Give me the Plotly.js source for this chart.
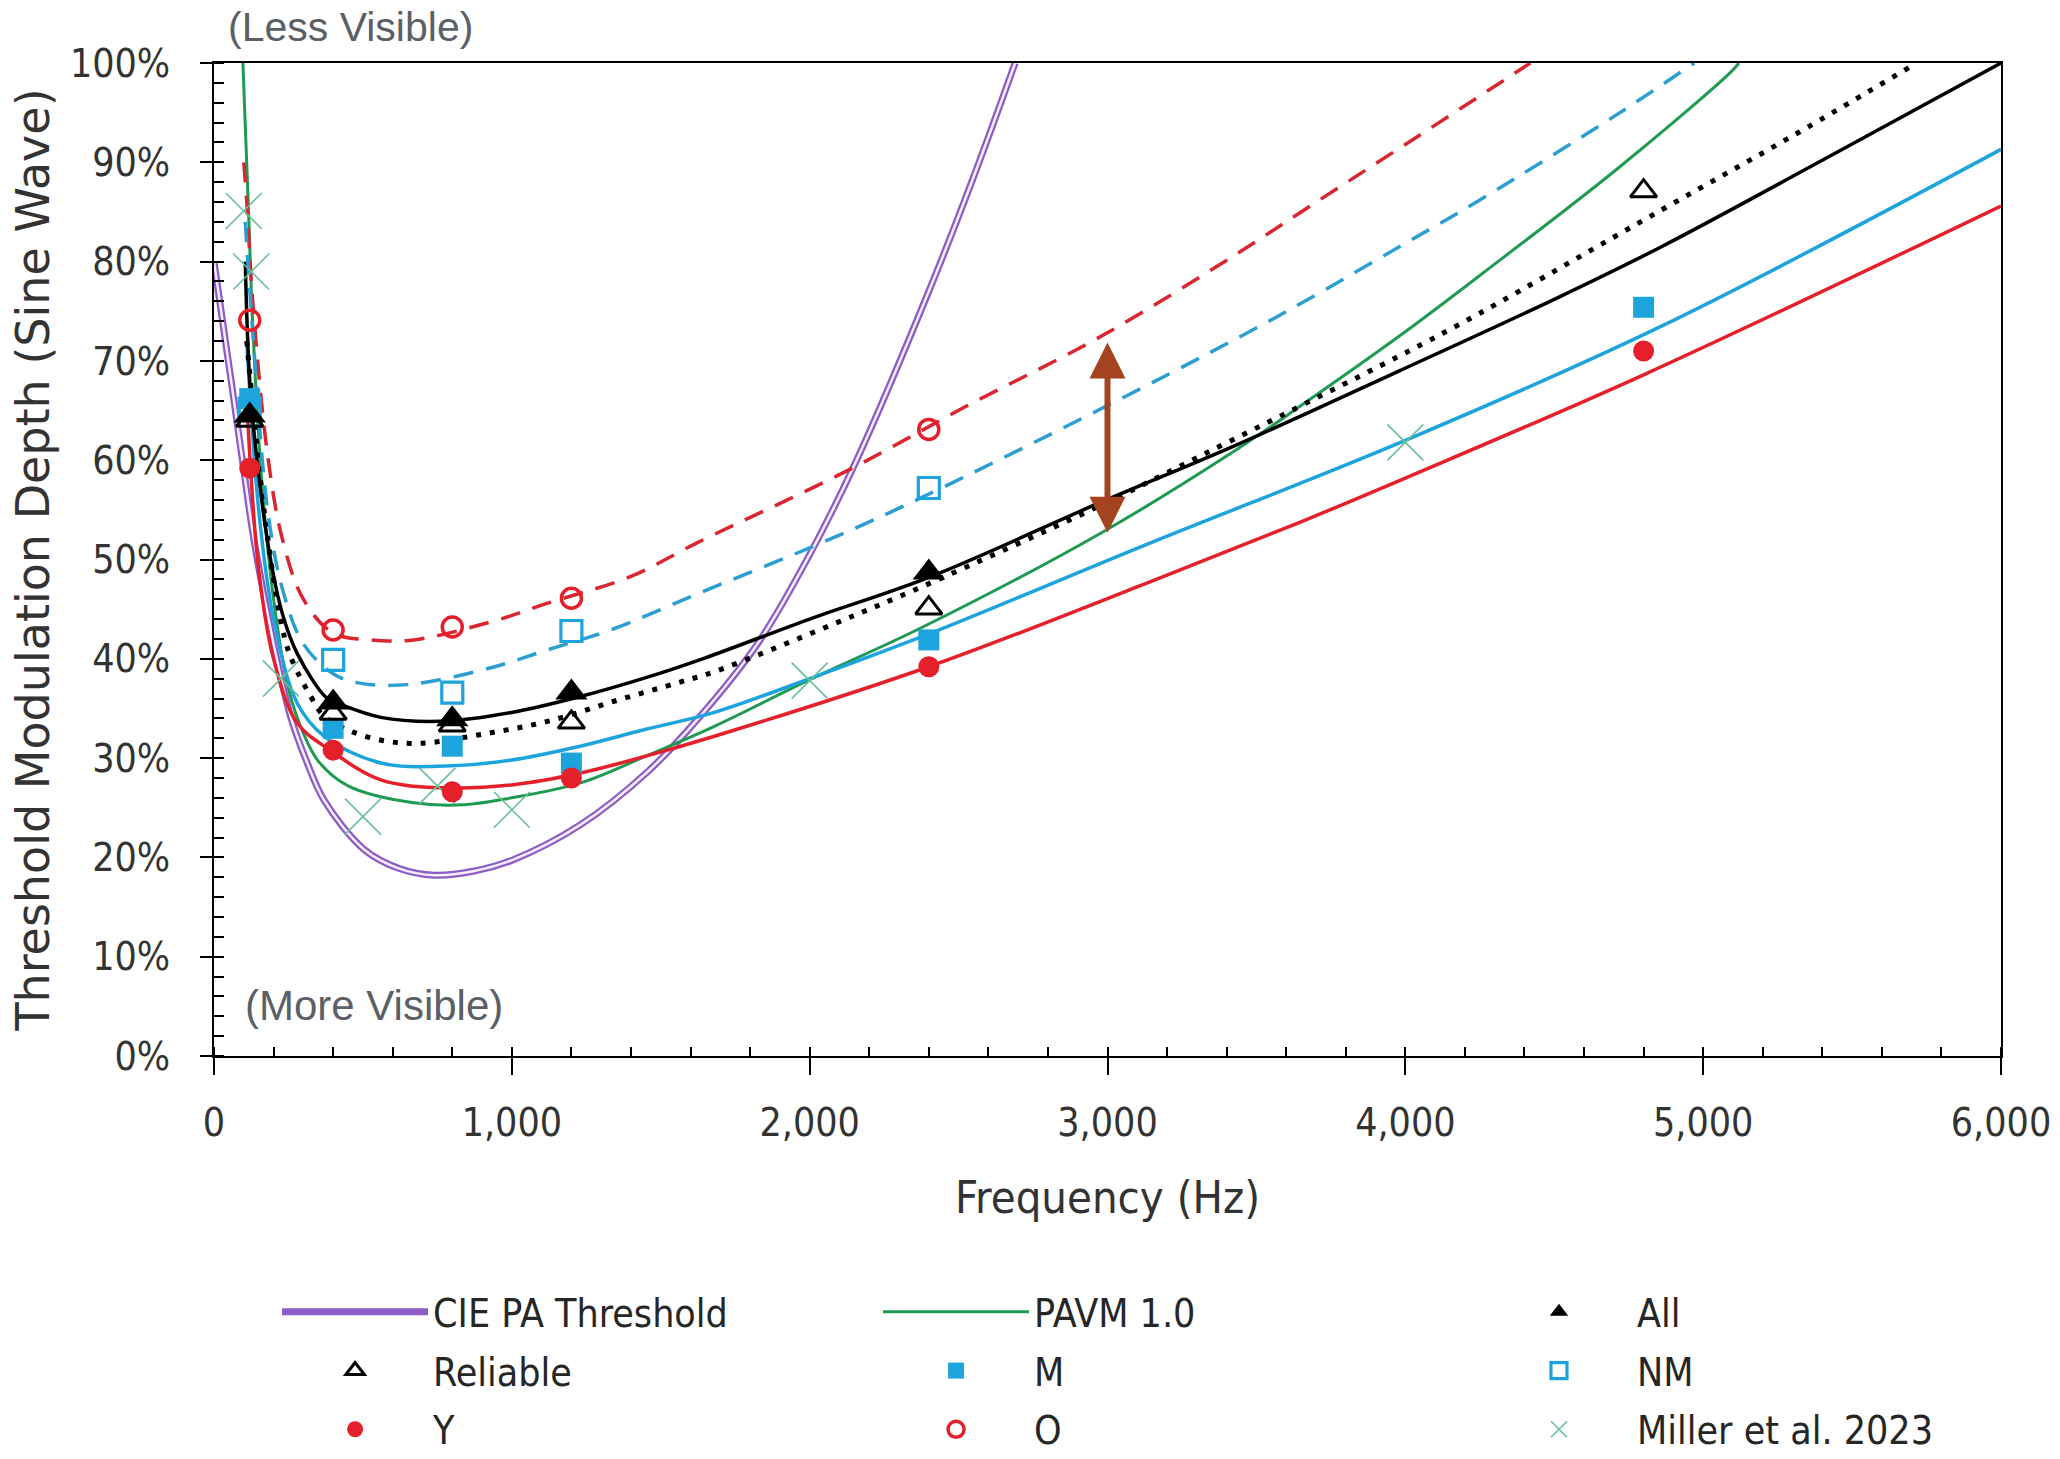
<!DOCTYPE html>
<html>
<head>
<meta charset="utf-8">
<script src="https://cdn.plot.ly/plotly-3.0.1.min.js"></script>
<style>
  html, body { margin: 0; padding: 0; background: #fff; }
  #chart { width: 2060px; height: 1459px; }
</style>
</head>
<body>
<div id="chart"></div>
<script>
// ---------------- data ----------------
// measured thresholds (Hz, fraction)
const freqAll = [120, 400, 800, 1200, 2400];
const valAll = [0.645, 0.356, 0.339, 0.366, 0.487];
const freqReliable = [120, 400, 800, 1200, 2400, 4800];
const valReliable = [0.64, 0.345, 0.333, 0.336, 0.451, 0.871];
const freqM = [120, 400, 800, 1200, 2400, 4800];
const valM = [0.662, 0.330, 0.312, 0.295, 0.419, 0.754];
const freqNM = [120, 400, 800, 1200, 2400];
const valNM = [0.652, 0.399, 0.366, 0.428, 0.572];
const freqY = [120, 400, 800, 1200, 2400, 4800];
const valY = [0.592, 0.308, 0.266, 0.280, 0.392, 0.710];
const freqO = [120, 400, 800, 1200, 2400];
const valO = [0.741, 0.429, 0.432, 0.461, 0.631];
const freqMiller = [100, 125, 225, 500, 750, 1000, 2000, 4000];
const valMiller = [0.851, 0.790, 0.380, 0.241, 0.272, 0.248, 0.378, 0.618];

// model / fitted curves
const cieF = [0, 60, 100, 134, 200, 257, 312, 369, 504, 620, 740, 870, 1007, 1231, 1455, 1632, 1827, 2000, 2156, 2400, 2550, 2690];
const cieV = [0.80, 0.675, 0.59, 0.52, 0.415, 0.342, 0.296, 0.258, 0.208, 0.189, 0.182, 0.186, 0.198, 0.233, 0.286, 0.342, 0.416, 0.505, 0.599, 0.77, 0.885, 1.0];
const pavmF = [97, 114, 131, 160, 200, 250, 300, 350, 450, 670, 840, 1000, 1230, 1450, 1680, 2000, 2380, 2980, 3430, 3650, 3980, 4250, 4710, 5090, 5120];
const pavmV = [1.0, 0.867, 0.73, 0.58, 0.46, 0.37, 0.325, 0.297, 0.272, 0.255, 0.253, 0.26, 0.275, 0.302, 0.332, 0.379, 0.432, 0.527, 0.61, 0.655, 0.725, 0.786, 0.893, 0.99, 1.0];
const allFitF = [105, 120, 150, 190, 230, 280, 380, 425, 560, 760, 1000, 1230, 1450, 1650, 2000, 2400, 2980, 3430, 3980, 4500, 4860, 5400, 6000];
const allFitV = [0.80, 0.68, 0.585, 0.50, 0.445, 0.405, 0.36, 0.354, 0.341, 0.337, 0.346, 0.362, 0.381, 0.401, 0.44, 0.482, 0.558, 0.615, 0.69, 0.762, 0.815, 0.902, 1.0];
const relFitF = [110, 170, 230, 260, 325, 370, 460, 580, 700, 900, 1120, 1340, 1570, 1680, 2080, 2380, 2980, 3430, 3980, 4250, 4860, 5320, 5700];
const relFitV = [0.72, 0.545, 0.43, 0.40, 0.362, 0.342, 0.327, 0.317, 0.315, 0.324, 0.337, 0.357, 0.377, 0.387, 0.435, 0.473, 0.555, 0.622, 0.705, 0.748, 0.852, 0.93, 0.997];
const mFitF = [110, 150, 200, 280, 370, 560, 780, 1000, 1230, 1450, 1680, 2000, 2400, 3130, 4000, 4860, 6000];
const mFitV = [0.72, 0.55, 0.44, 0.355, 0.322, 0.295, 0.292, 0.298, 0.312, 0.329, 0.346, 0.38, 0.425, 0.515, 0.62, 0.735, 0.913];
const nmFitF = [105, 130, 180, 230, 300, 400, 480, 650, 930, 1120, 1340, 1620, 2080, 2380, 2980, 3430, 3650, 3980, 4250, 4710, 4970];
const nmFitV = [0.84, 0.73, 0.55, 0.47, 0.415, 0.385, 0.376, 0.374, 0.391, 0.409, 0.43, 0.465, 0.522, 0.563, 0.652, 0.722, 0.758, 0.815, 0.862, 0.948, 1.0];
const yFitF = [110, 150, 200, 280, 390, 560, 780, 1000, 1230, 1450, 1680, 2400, 3130, 3650, 4000, 4800, 6000];
const yFitV = [0.66, 0.49, 0.40, 0.335, 0.308, 0.278, 0.27, 0.273, 0.285, 0.302, 0.322, 0.392, 0.476, 0.538, 0.582, 0.686, 0.856];
const oFitF = [100, 110, 130, 180, 230, 300, 400, 530, 670, 950, 1120, 1400, 1630, 2130, 2530, 2980, 3430, 3650, 4000, 4420];
const oFitV = [0.90, 0.86, 0.76, 0.605, 0.52, 0.46, 0.426, 0.419, 0.419, 0.439, 0.456, 0.483, 0.518, 0.59, 0.655, 0.725, 0.807, 0.85, 0.918, 1.0];

// arrow between the O and Y/all curves
const arrowX = [3000];
const arrowLow = [0.527];
const arrowHigh = [0.72];

// axis ticks
const xTickVals = [0, 1000, 2000, 3000, 4000, 5000, 6000];
const yTickVals = [0, 0.1, 0.2, 0.3, 0.4, 0.5, 0.6, 0.7, 0.8, 0.9, 1.0];

// ---------------- styling ----------------
const RED = '#e5202a';
const RED_D = '#d9262f';
const BLUE = '#1ea4dd';
const BLUE_D = '#2b9fd2';
const GREEN = '#1f9a52';
const PURPLE = '#8e5cc6';
const MILLER = '#69c09a';
const COND = 'DejaVu Sans Condensed, DejaVu Sans, sans-serif';

function fit(f, v, color, width, dash) {
  return { x: f, y: v, type: 'scatter', mode: 'lines', showlegend: false, hoverinfo: 'skip',
    line: { color: color, width: width, dash: dash || 'solid', shape: 'spline', smoothing: 1 } };
}
function pts(f, v, name, symbol, color, size, lw, legend, rank) {
  return { x: f, y: v, type: 'scatter', mode: 'markers', name: name, legend: legend, legendrank: rank,
    legendgroup: name,
    marker: { symbol: symbol, color: color, size: size, line: { width: lw, color: color } } };
}

const traces = [
  // CIE double line (outer purple + inner light stroke)
  { x: cieF, y: cieV, type: 'scatter', mode: 'lines', name: 'CIE PA Threshold', legend: 'legend', legendrank: 1,
    legendgroup: 'cie', line: { color: PURPLE, width: 7, shape: 'spline', smoothing: 1 } },
  { x: cieF, y: cieV, type: 'scatter', mode: 'lines', showlegend: false, hoverinfo: 'skip',
    line: { color: '#f4eefb', width: 2.5, shape: 'spline', smoothing: 1 } },
  { x: pavmF, y: pavmV, type: 'scatter', mode: 'lines', name: 'PAVM 1.0', legend: 'legend2', legendrank: 1,
    legendgroup: 'pavm', line: { color: GREEN, width: 3, shape: 'spline', smoothing: 1 } },
  fit(yFitF, yFitV, RED, 3.5),
  fit(mFitF, mFitV, BLUE, 3.5),
  fit(allFitF, allFitV, '#000000', 3.5),
  fit(relFitF, relFitV, '#000000', 5, '5px,9px'),
  fit(oFitF, oFitV, RED_D, 3.5, '20px,13px'),
  fit(nmFitF, nmFitV, BLUE_D, 3.5, '20px,13px'),
  pts(freqMiller, valMiller, 'Miller et al. 2023', 'x-thin-open', MILLER, 36, 1.6, 'legend3', 3),
  pts(freqM, valM, 'M', 'square', BLUE, 21, 0, 'legend2', 2),
  pts(freqNM, valNM, 'NM', 'square-open', BLUE, 21, 3.2, 'legend3', 2),
  pts(freqY, valY, 'Y', 'circle', RED, 21, 0, 'legend', 3),
  pts(freqO, valO, 'O', 'circle-open', RED, 20, 3.5, 'legend2', 3),
  pts(freqReliable, valReliable, 'Reliable', 'triangle-up-open', '#000000', 23, 3, 'legend', 2),
  pts(freqAll, valAll, 'All', 'triangle-up', '#000000', 28, 0, 'legend3', 1)
];

const legendBase = {
  orientation: 'v', xanchor: 'left', yanchor: 'top', yref: 'paper', xref: 'paper',
  font: { family: COND, size: 39, color: '#262626' },
  bgcolor: 'rgba(0,0,0,0)', borderwidth: 0,
  itemwidth: 146, tracegroupgap: 5, traceorder: 'grouped', valign: 'middle',
  itemclick: false, itemdoubleclick: false
};
const legendTop = -0.2256;

const layout = {
  width: 2060, height: 1459,
  paper_bgcolor: '#ffffff', plot_bgcolor: '#ffffff',
  margin: { l: 214, r: 59, t: 63, b: 403, pad: 0, autoexpand: false },
  font: { family: COND, color: '#333333' },
  xaxis: {
    range: [0, 6000], tickvals: xTickVals, tickformat: ',d',
    showline: true, linecolor: '#000', linewidth: 2, mirror: true,
    ticks: 'outside', ticklen: 17, tickwidth: 2, tickcolor: '#000',
    minor: { dtick: 200, ticks: 'inside', ticklen: 9, tickwidth: 2, tickcolor: '#000', showgrid: false },
    showgrid: false, zeroline: false, automargin: false,
    tickfont: { family: COND, size: 39, color: '#333' },
    ticklabelstandoff: 14,
    title: { text: 'Frequency (Hz)', font: { family: COND, size: 45, color: '#333' }, standoff: 38 }
  },
  yaxis: {
    range: [0, 1], tickvals: yTickVals, tickformat: '.0%',
    showline: true, linecolor: '#000', linewidth: 2, mirror: true,
    ticks: 'outside', ticklen: 12, tickwidth: 2, tickcolor: '#000',
    minor: { dtick: 0.02, ticks: 'inside', ticklen: 10, tickwidth: 2, tickcolor: '#000', showgrid: false },
    showgrid: false, zeroline: false, automargin: false,
    tickfont: { family: COND, size: 39, color: '#333' },
    ticklabelstandoff: 22,
    title: { text: 'Threshold Modulation Depth (Sine Wave)', font: { family: 'DejaVu Sans, sans-serif', size: 46, color: '#333' }, standoff: 6 }
  },
  legend: Object.assign({}, legendBase, { x: 0.0353, y: legendTop }),
  legend2: Object.assign({}, legendBase, { x: 0.3716, y: legendTop }),
  legend3: Object.assign({}, legendBase, { x: 0.709, y: legendTop }),
  annotations: [
    { xref: 'paper', yref: 'paper', x: 0.0067, y: 1.0614, xanchor: 'left', yanchor: 'top',
      text: '(Less Visible)', showarrow: false, font: { family: 'Liberation Sans, Arial, sans-serif', size: 41, color: '#5b5f66' } },
    { xref: 'paper', yref: 'paper', x: 0.0162, y: 0.051, xanchor: 'left', yanchor: 'middle',
      text: '(More Visible)', showarrow: false, font: { family: 'Liberation Sans, Arial, sans-serif', size: 42, color: '#5b5f66' } },
    { x: arrowX[0], y: arrowLow[0], ax: arrowX[0], ay: arrowHigh[0], xref: 'x', yref: 'y', axref: 'x', ayref: 'y',
      text: '', showarrow: true, arrowside: 'end+start', arrowhead: 2, startarrowhead: 2,
      arrowsize: 1.2, startarrowsize: 1.2, arrowwidth: 6, arrowcolor: '#a5421f', standoff: 0, startstandoff: 0 }
  ]
};

Plotly.newPlot('chart', traces, layout, { displayModeBar: false, staticPlot: true });
</script>
</body>
</html>
